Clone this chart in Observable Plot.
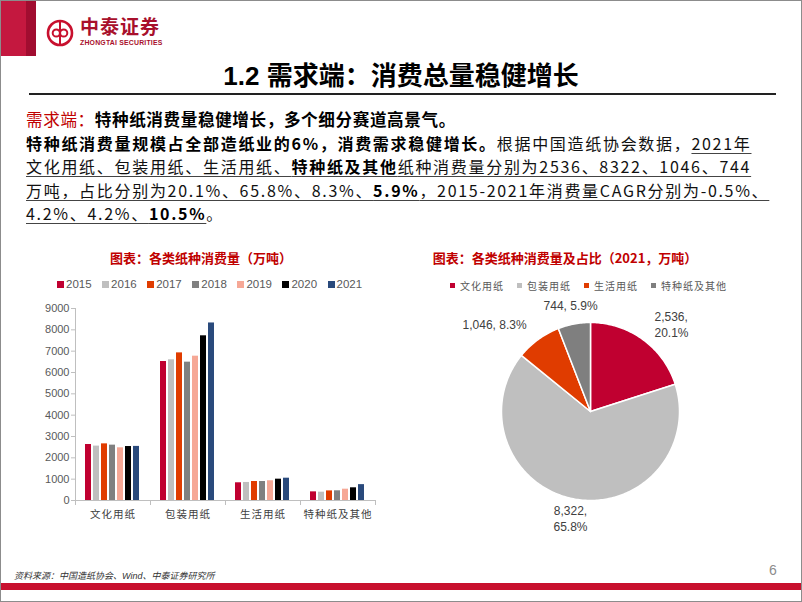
<!DOCTYPE html>
<html><head><meta charset="utf-8">
<script src="https://cdn.jsdelivr.net/npm/d3@7"></script>
<script src="https://cdn.jsdelivr.net/npm/@observablehq/plot@0.6"></script>
<style>
html,body{margin:0;padding:0;background:#fff;}
#slide{position:relative;box-sizing:border-box;width:802px;height:602px;border:1px solid #8c8c8c;overflow:hidden;background:#fff;font-family:"Noto Sans CJK SC","Noto Sans",sans-serif;}
.abs{position:absolute;}
.body{white-space:nowrap;color:#111;}
.body b{font-weight:700;color:#000;}
.u{text-decoration:underline;text-decoration-color:#444;text-underline-offset:3px;}
.ctitle{color:#C00000;font-weight:700;font-size:13px;white-space:nowrap;line-height:18px;}
.legend{display:flex;align-items:center;white-space:nowrap;}
.legend .it{display:flex;align-items:center;}
.legend .sw{display:inline-block;}
#bars svg g[aria-label="fx-axis tick label"] text{letter-spacing:1px;}
</style></head>
<body>
<div id="slide">
  <div class="abs" style="left:0;top:0;width:25px;height:55px;background:#C4183F"></div>
  <div class="abs" style="left:25px;top:0;width:10px;height:55px;background:#A10D30"></div>
  <svg class="abs" style="left:44px;top:17px" width="30" height="30">
    <circle cx="15" cy="15" r="12" fill="none" stroke="#C8102E" stroke-width="2.6"/>
    <circle cx="11.3" cy="15" r="3.6" fill="none" stroke="#C8102E" stroke-width="2"/>
    <circle cx="18.7" cy="15" r="3.6" fill="none" stroke="#C8102E" stroke-width="2"/>
    <line x1="15" y1="4" x2="15" y2="26" stroke="#C8102E" stroke-width="2"/>
  </svg>
  <div class="abs" style="left:79px;top:15px;font-size:19px;line-height:20px;font-weight:700;color:#A8102C;letter-spacing:1px">中泰证券</div>
  <div class="abs" style="left:79px;top:38px;font-size:6.9px;line-height:8px;font-weight:700;color:#A8102C;font-family:'Liberation Sans',Arial,sans-serif;letter-spacing:0.2px">ZHONGTAI SECURITIES</div>

  <div class="abs" style="left:0;width:800px;top:56px;text-align:center;font-size:26px;font-weight:700;color:#000;line-height:34px"><span style="font-family:'Liberation Sans',Arial,sans-serif">1.2 </span>需求端：消费总量稳健增长</div>
  <div class="abs" style="left:28px;top:92px;width:747px;height:1.5px;background:#222"></div>

  <div class="abs body" style="left:25px;top:106px;font-size:16.6px;line-height:24px;letter-spacing:0.6px"><span style="color:#C00000">需求端：</span><b>特种纸消费量稳健增长，多个细分赛道高景气。</b></div>
  <div class="abs body" style="left:25px;top:131px;font-size:16px;line-height:23.3px;letter-spacing:1.7px">
    <b>特种纸消费量规模占全部造纸业的6%，消费需求稳健增长。</b>根据中国造纸协会数据，<span class="u">2021年</span><br>
    <span class="u">文化用纸、包装用纸、生活用纸、<b>特种纸及其他</b>纸种消费量分别为2536、8322、1046、744</span><br>
    <span class="u">万吨，占比分别为20.1%、65.8%、8.3%、<b>5.9%</b>，2015-2021年消费量CAGR分别为-0.5%、</span><br>
    <span class="u">4.2%、4.2%、<b>10.5%</b></span>。
  </div>

  <div class="abs ctitle" style="left:0;width:400px;text-align:center;top:248px">图表：各类纸种消费量（万吨）</div>
  <div class="abs ctitle" style="left:364px;width:400px;text-align:center;top:248px">图表：各类纸种消费量及占比（2021，万吨）</div>

  <div id="barLegend" class="abs legend" style="left:56px;top:277px"></div>
  <div id="pieLegend" class="abs legend" style="left:449px;top:277px"></div>

  <div id="bars" class="abs" style="left:0;top:300px"></div>
  <div id="pie" class="abs" style="left:419px;top:290px"></div>

  <div class="abs" style="left:13px;top:569px;font-size:9px;line-height:12px;font-style:italic;color:#333;white-space:nowrap">资料来源：中国造纸协会、<span style="font-family:'Liberation Sans',Arial,sans-serif">Wind</span>、中泰证券研究所</div>
  <div class="abs" style="left:768px;top:560px;font-size:14px;line-height:18px;color:#8c8c8c;font-family:'Liberation Sans',Arial,sans-serif">6</div>
  <div class="abs" style="left:0;top:582px;width:802px;height:7px;background:#C8102E"></div>
</div>
<script>
// ---- data ----
const categories = ["文化用纸", "包装用纸", "生活用纸", "特种纸及其他"];
const years = ["2015", "2016", "2017", "2018", "2019", "2020", "2021"];
const culturalPaper  = [2625, 2550, 2655, 2595, 2470, 2530, 2536];
const packagingPaper = [6515, 6595, 6920, 6485, 6765, 7720, 8322];
const householdPaper = [830, 845, 890, 890, 925, 1000, 1046];
const specialtyPaper = [405, 390, 450, 455, 530, 595, 744];
const yTicks = [0, 1000, 2000, 3000, 4000, 5000, 6000, 7000, 8000, 9000];
const pieValues2021 = [2536, 8322, 1046, 744];

// ---- styles ----
const yearColors = ["#C00030", "#BFBFBF", "#E03C00", "#808080", "#F6A896", "#000000", "#2A4A7C"];
const pieColors = ["#C00030", "#BFBFBF", "#E03C00", "#7F7F7F"];
const latin = "'Liberation Sans', Arial, sans-serif";
const cjk = "'Noto Sans CJK SC', sans-serif";

// ---- legends ----
const bl = document.getElementById("barLegend");
years.forEach((y, i) => {
  const it = document.createElement("span");
  it.className = "it";
  it.style.marginRight = "10.5px";
  it.innerHTML = `<span class="sw" style="width:7px;height:7px;background:${yearColors[i]};margin-right:2px"></span><span style="font-family:${latin};font-size:11.5px;color:#595959">${y}</span>`;
  bl.appendChild(it);
});
const pl = document.getElementById("pieLegend");
categories.forEach((c, i) => {
  const it = document.createElement("span");
  it.className = "it";
  it.style.marginRight = "13px";
  it.innerHTML = `<span class="sw" style="width:5px;height:5px;background:${pieColors[i]};margin-right:5px"></span><span style="font-family:${cjk};font-size:10px;color:#595959;letter-spacing:1px">${c}</span>`;
  pl.appendChild(it);
});

// ---- bar chart ----
const series = [culturalPaper, packagingPaper, householdPaper, specialtyPaper];
const barData = categories.flatMap((c, i) => years.map((y, j) => ({category: c, year: y, value: series[i][j]})));
const plotH = 192;
const bars = Plot.plot({
  width: 390, height: 229,
  marginLeft: 73, marginRight: 15, marginTop: 7, marginBottom: 30,
  style: {fontFamily: latin, fontSize: "11px", background: "transparent", overflow: "visible"},
  fx: {domain: categories, padding: 0, label: null},
  x: {domain: years, paddingInner: 0.24, paddingOuter: 0.9, axis: null},
  y: {domain: [0, 9000], label: null},
  color: {domain: years, range: yearColors},
  marks: [
    Plot.frame({anchor: "left", facetAnchor: "left", stroke: "#BFBFBF"}),
    Plot.ruleY([0], {stroke: "#BFBFBF"}),
    Plot.frame({anchor: "left", insetTop: plotH, insetBottom: -4, stroke: "#BFBFBF"}),
    Plot.frame({anchor: "right", insetTop: plotH, insetBottom: -4, stroke: "#BFBFBF"}),
    Plot.barY(barData, {fx: "category", x: "year", y: "value", fill: "year"}),
    Plot.axisY({ticks: yTicks, tickSize: 4, tickPadding: 2, stroke: "#BFBFBF", fill: "#595959", tickFormat: "d", fontSize: 11, label: null}),
    Plot.axisFx({anchor: "bottom", tickSize: 0, tickPadding: 10, fill: "#404040", fontSize: 10.5, fontFamily: cjk, label: null})
  ]
});
document.getElementById("bars").appendChild(bars);

// ---- pie chart ----
const R = 89, W = 340, H = 250, CX = 170, CY = 120;
const total = d3.sum(pieValues2021);
const arcs = d3.pie().sort(null).value(d => d)(pieValues2021);
const fmtV = d3.format(",");
const fmtP = d3.format(".1%");
const sliceMarks = arcs.map((a, i) => {
  const steps = Math.max(2, Math.ceil((a.endAngle - a.startAngle) / (Math.PI / 180)));
  const pts = [{x: 0, y: 0}];
  for (let k = 0; k <= steps; k++) {
    const t = a.startAngle + (a.endAngle - a.startAngle) * k / steps;
    pts.push({x: Math.sin(t), y: Math.cos(t)});
  }
  pts.push({x: 0, y: 0});
  return Plot.line(pts, {x: "x", y: "y", fill: pieColors[i], stroke: "white", strokeWidth: 1.5, curve: "linear"});
});
const labelData = arcs.map((a, i) => {
  const m = (a.startAngle + a.endAngle) / 2;
  const share = pieValues2021[i] / total;
  const s = Math.sin(m);
  return {
    x: 1.22 * s, y: 1.22 * Math.cos(m),
    anchor: s > 0.3 ? "start" : s < -0.3 ? "end" : "middle",
    text: fmtV(pieValues2021[i]) + "," + (share > 0.1 ? "\n" : " ") + fmtP(share)
  };
});
const pie = Plot.plot({
  width: W, height: H, margin: 0,
  style: {fontFamily: latin, background: "transparent", overflow: "visible"},
  x: {domain: [-CX / R, (W - CX) / R], axis: null},
  y: {domain: [-(H - CY) / R, CY / R], axis: null},
  marks: [
    ...sliceMarks,
    ...["start", "middle", "end"].map(an => Plot.text(labelData.filter(d => d.anchor === an), {
      x: "x", y: "y", text: "text", textAnchor: an, fontSize: 12, fill: "#404040", lineHeight: 1.3
    }))
  ]
});
document.getElementById("pie").appendChild(pie);
</script>
</body></html>
